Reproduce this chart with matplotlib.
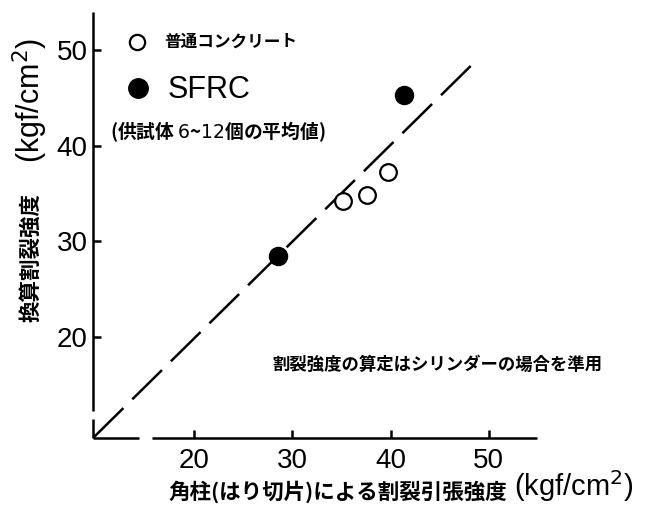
import matplotlib.pyplot as plt

plt.rcParams['font.family'] = ['Liberation Sans', 'Noto Sans CJK JP']
plt.rcParams['lines.scale_dashes'] = False

# values (kgf/cm^2)
plain_x = [35.2, 37.6, 39.7]      # 普通コンクリート
plain_y = [34.2, 34.9, 37.3]
sfrc_x = [28.5, 41.4]             # SFRC
sfrc_y = [28.5, 45.3]
ref_x = [9.8, 48.2]               # 1:1 line
ref_y = [9.5, 48.4]
xticks = [20, 30, 40, 50]
yticks = [20, 30, 40, 50]

W, H = 652, 507
fig = plt.figure(figsize=(W / 100, H / 100), dpi=100)
ax = fig.add_axes([93 / W, 1 - 438 / H, (537 - 93) / W, (438 - 12) / H])
x0, x1 = 9.73, 54.9
y0, y1 = 9.43, 54.0
ax.set_xlim(x0, x1)
ax.set_ylim(y0, y1)

for s in ax.spines.values():
    s.set_visible(False)

# axis lines with the small breaks near the origin
lw = 1.8
kw = dict(color='k', lw=lw, clip_on=False, solid_capstyle='butt')
ax.plot([x0, 14.4], [y0, y0], **kw)
ax.plot([15.7, x1], [y0, y0], **kw)
ax.plot([x0, x0], [y0, 11.4], **kw)
ax.plot([x0, x0], [12.3, y1], **kw)

ax.set_xticks(xticks)
ax.set_yticks(yticks)
ax.tick_params(axis='both', direction='in', length=6, width=lw, labelsize=20)
ax.tick_params(axis='x', pad=7)
ax.tick_params(axis='y', pad=4)

ax.plot(ref_x, ref_y, color='k', lw=lw, dashes=(30, 9))
ax.plot(plain_x, plain_y, 'o', ms=12, mfc='white', mec='k', mew=1.6, zorder=3)
ax.plot(sfrc_x, sfrc_y, 'o', ms=13, mfc='k', mec='k', zorder=3)

cjk = dict(family=['Noto Sans CJK JP', 'DejaVu Sans'], weight='bold')

# legend drawn by hand
fig.add_artist(plt.Line2D([137 / W], [1 - 42 / H], marker='o', ms=11, mfc='white', mec='k', mew=1.6))
fig.add_artist(plt.Line2D([138 / W], [1 - 88 / H], marker='o', ms=14, mfc='k', mec='k'))
fig.text(164 / W, 1 - 42 / H, '普通コンクリート', fontsize=12, va='center', ha='left', **cjk)
fig.text(168 / W, 1 - 90 / H, 'SFRC', fontsize=22, va='center', ha='left')
fig.text(110 / W, 1 - 132 / H, '(供試体 $\\mathit{6}$~$\\mathit{12}$個の平均値)', fontsize=13.5,
         va='center', ha='left', **cjk)

fig.text(272 / W, 1 - 365 / H, '割裂強度の算定はシリンダーの場合を準用', fontsize=12.5,
         va='center', ha='left', **cjk)

# axis titles
fig.text(168 / W, 1 - 492 / H, '角柱(はり切片)による割裂引張強度', fontsize=15.5,
         va='center', ha='left', **cjk)
fig.text(514 / W, 1 - 486 / H, '(kgf/cm$^2$)', fontsize=21, va='center', ha='left')
fig.text(31 / W, 1 - 258 / H, '換算割裂強度', fontsize=15.5, rotation=90,
         va='center', ha='center', **cjk)
fig.text(30 / W, 1 - 100 / H, '(kgf/cm$^2$)', fontsize=22, rotation=90,
         va='center', ha='center')

fig.savefig('out.png', dpi=100)
